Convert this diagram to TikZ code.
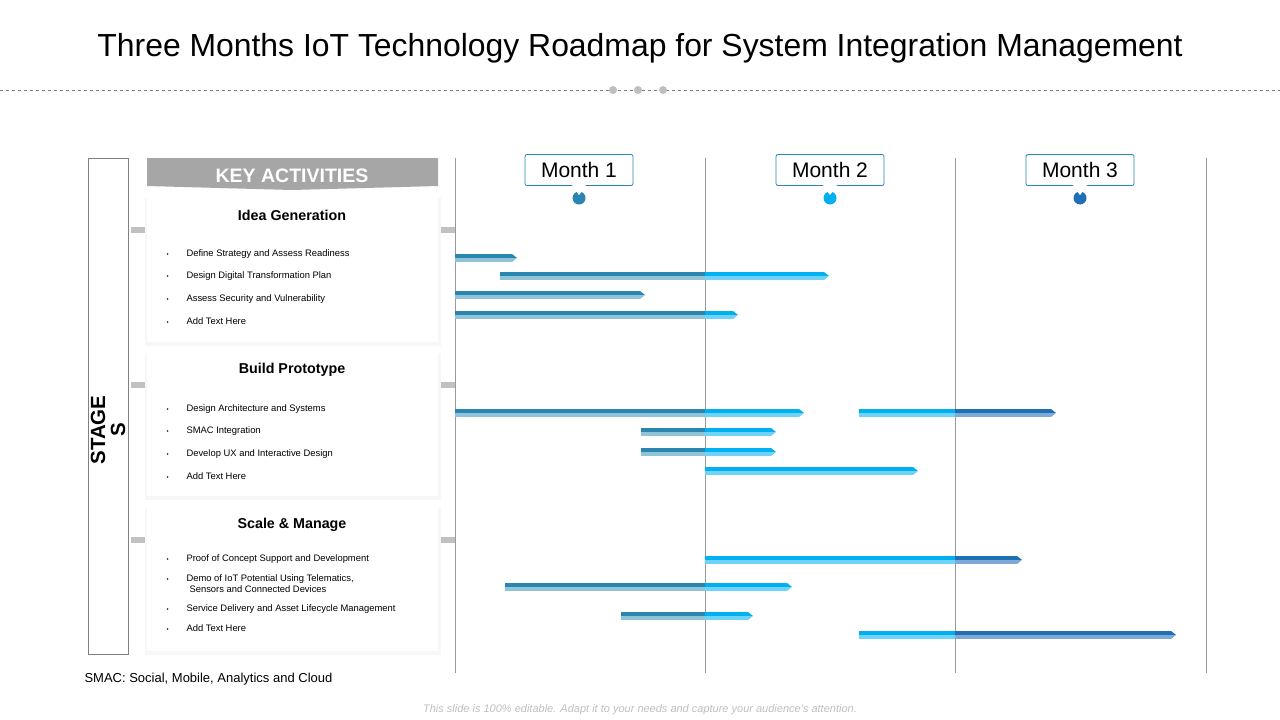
\documentclass[tikz,border=0pt]{standalone}
\usepackage{fontspec}
\setmainfont{Liberation Sans}
\begin{document}
\begin{tikzpicture}[x=1pt,y=-1pt,
  item/.style={anchor=west,font=\fontsize{9.4}{11}\selectfont,align=left},
  ctitle/.style={font=\fontsize{14.3}{16}\selectfont\bfseries},
  monthbox/.style={draw=mA,fill=white,rounded corners=2pt,minimum width=108pt,minimum height=31pt,font=\fontsize{21}{23}\selectfont,line width=0.8pt}]
\definecolor{mA}{HTML}{2A86B0}\definecolor{mAl}{HTML}{8FC4D8}
\definecolor{mB}{HTML}{00B0F0}\definecolor{mBl}{HTML}{6FD3F7}
\definecolor{mC}{HTML}{1F6FB5}\definecolor{mCl}{HTML}{7EA9D6}
\definecolor{gr}{HTML}{A6A6A6}
\useasboundingbox (0,0) rectangle (1280,720);
\fill[white] (0,0) rectangle (1280,720);
\node (title) at (640,48) {\fontsize{31.9}{36}\selectfont Three Months IoT Technology Roadmap for System Integration Management};
\draw[gray,dashed] (0,90) -- (1280,90);
\foreach \x in {613,638,663} \fill[gray!50] (\x,90) circle (4);
% grid
\foreach \x in {455,705,955,1206} \draw[gray!80,line width=0.6pt] (\x,158) -- (\x,673);
% stages
\draw[gray,line width=0.7pt] (88,158) rectangle (128,654);
\node[rotate=90,font=\fontsize{20.5}{20}\selectfont\bfseries,align=center] (stg) at (108,430) {STAGE\\S};
% banner
\fill[gr] (147,158) -- (438,158) -- (438,186) -- (292,190) -- (147,186) -- cycle;
\node[white,font=\fontsize{19.5}{21}\selectfont\bfseries] (ka) at (292,176) {KEY ACTIVITIES};
% cards
\foreach \y in {230,385,540} {
  \fill[gr!70] (131,\y-3) rectangle (455,\y+3);}
\foreach \a/\b in {198/342,353/496,508/651} {
  \fill[black!5] (146,\a) rectangle (440,\b+3);
  \fill[black!3] (145,\a) rectangle (441,\b+4);
  \fill[white] (147,\a) rectangle (438,\b);}
\node[ctitle] (c1) at (292,215) {Idea Generation};
\node[ctitle] (c2) at (292,370) {Build Prototype};
\node[ctitle] (c3) at (292,525) {Scale \& Manage};
\foreach \y/\t [count=\i] in {254/Define Strategy and Assess Readiness,276/Design Digital Transformation Plan,299/Assess Security and Vulnerability,321/Add Text Here,409/Design Architecture and Systems,431/SMAC Integration,454/Develop UX and Interactive Design,476/Add Text Here,559/Proof of Concept Support and Development,609/Service Delivery and Asset Lifecycle Management,628/Add Text Here} {
  \node[item] (it\i) at (163,\y) {\makebox[20pt][l]{\fontsize{6}{6}\selectfont•}\t};}
\node[item] (itd) at (163,584) {\makebox[20pt][l]{\fontsize{6}{6}\selectfont•}Demo of IoT Potential Using Telematics,\\\hspace{23pt}Sensors and Connected Devices};
% months
\foreach \x/\c/\n in {579/mA/1,830/mB/2,1080/mC/3} {
  \node[monthbox] (m\n) at (\x,170) {Month \n};
  \fill[white] (\x-7,185.2) -- (\x+7,185.2) -- (\x,191) -- cycle;
  \fill[\c] (\x,198) circle (6.5);
  \fill[white] (\x-4,190) -- (\x+4,190) -- (\x,195) -- cycle;}
% bars
\foreach \y/\a/\b in {258/455/517,276/500/829,295/455/645,315/455/738,413/455/804,413/859/1056,432/641/776,452/641/776,471/705/918,560/705/1022,587/505/792,616/621/753,635/859/1176} {
  \begin{scope}
  \clip (\a,\y-4) -- (\b-5,\y-4) -- (\b,\y) -- (\b-5,\y+4) -- (\a,\y+4) -- cycle;
  \fill[mA] (455,\y-4) rectangle (705,\y); \fill[mAl] (455,\y) rectangle (705,\y+4);
  \fill[mB] (705,\y-4) rectangle (955,\y); \fill[mBl] (705,\y) rectangle (955,\y+4);
  \fill[mC] (955,\y-4) rectangle (1206,\y); \fill[mCl] (955,\y) rectangle (1206,\y+4);
  \end{scope}}
\node[anchor=west,font=\fontsize{13}{15}\selectfont] (smac) at (81,679) {SMAC: Social, Mobile, Analytics and Cloud};
\node[gray!50,font=\fontsize{11}{13}\selectfont\itshape] (foot) at (640,710) {This slide is 100\% editable. Adapt it to your needs and capture your audience's attention.};
\end{tikzpicture}
\end{document}
